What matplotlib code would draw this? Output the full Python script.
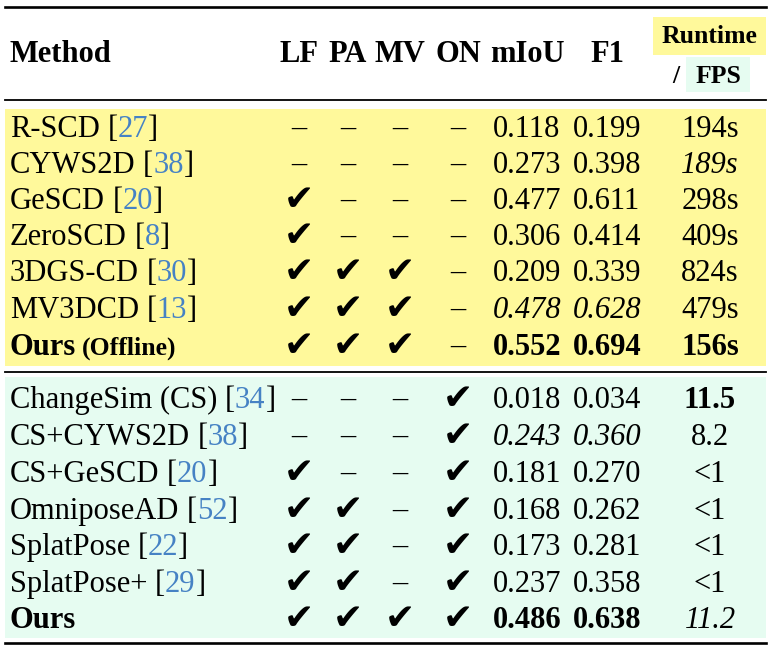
import matplotlib
matplotlib.use("Agg")
import matplotlib.pyplot as plt
from matplotlib.patches import Rectangle

# ---- table data ----
methods = ["R-SCD", "CYWS2D", "GeSCD", "ZeroSCD", "3DGS-CD", "MV3DCD", "Ours",
           "ChangeSim (CS)", "CS+CYWS2D", "CS+GeSCD", "OmniposeAD", "SplatPose",
           "SplatPose+", "Ours"]
suffix = ["", "", "", "", "", "", "(Offline)", "", "", "", "", "", "", ""]
cites = ["27", "38", "20", "8", "30", "13", "", "34", "38", "20", "52", "22", "29", ""]
lf = [0, 0, 1, 1, 1, 1, 1, 0, 0, 1, 1, 1, 1, 1]
pa = [0, 0, 0, 0, 1, 1, 1, 0, 0, 0, 1, 1, 1, 1]
mv = [0, 0, 0, 0, 1, 1, 1, 0, 0, 0, 0, 0, 0, 1]
on = [0, 0, 0, 0, 0, 0, 0, 1, 1, 1, 1, 1, 1, 1]
miou = ["0.118", "0.273", "0.477", "0.306", "0.209", "0.478", "0.552",
        "0.018", "0.243", "0.181", "0.168", "0.173", "0.237", "0.486"]
f1 = ["0.199", "0.398", "0.611", "0.414", "0.339", "0.628", "0.694",
      "0.034", "0.360", "0.270", "0.262", "0.281", "0.358", "0.638"]
runtime = ["194s", "189s", "298s", "409s", "824s", "479s", "156s",
           "11.5", "8.2", "<1", "<1", "<1", "<1", "11.2"]

# styles: b = bold, i = italic, n = normal
name_style = ["n"] * 6 + ["b"] + ["n"] * 6 + ["b"]
score_style = ["n", "n", "n", "n", "n", "i", "b", "n", "i", "n", "n", "n", "n", "b"]
rt_style = ["n", "i", "n", "n", "n", "n", "b", "b", "n", "n", "n", "n", "n", "i"]

SERIF = ["Liberation Serif", "DejaVu Serif"]
FS = 22
YELLOW = "#fff99b"
GREEN = "#e6fcf1"
BLUE = "#4682c4"

fig = plt.figure(figsize=(7.79, 6.48), dpi=100)
ax = fig.add_axes([0, 0, 1, 1])
ax.set_xlim(0, 779)
ax.set_ylim(648, 0)
ax.axis("off")
renderer = fig.canvas.get_renderer()


def props(style, size=FS, color="black"):
    return dict(family=SERIF, fontsize=size, color=color,
                fontweight="bold" if style == "b" else "normal",
                fontstyle="italic" if style == "i" else "normal")


def run(x, y, parts):
    # draw text pieces one after another on the same baseline
    inv = ax.transData.inverted()
    for s, p, gap in parts:
        t = ax.text(x, y, s, ha="left", va="baseline", **p)
        bb = t.get_window_extent(renderer)
        x = inv.transform((bb.x1, bb.y0))[0] + gap


# bands
ax.add_patch(Rectangle((5, 109), 761, 257, color=YELLOW, lw=0))
ax.add_patch(Rectangle((5, 377), 761, 261, color=GREEN, lw=0))
ax.add_patch(Rectangle((653, 17), 113, 38, color=YELLOW, lw=0))
ax.add_patch(Rectangle((686, 57), 64, 35, color=GREEN, lw=0))

# rules
ax.plot([5, 766], [7, 7], color="black", lw=1.9)
ax.plot([5, 766], [100, 100], color="black", lw=1.3)
ax.plot([5, 766], [371.5, 371.5], color="black", lw=1.3)
ax.plot([5, 766], [643, 643], color="black", lw=1.9)

# header
hy = 62
ax.text(10, hy, "Method", ha="left", va="baseline", **props("b"))
col_x = [299, 348, 400, 458, 527, 607]
for cx, h in zip(col_x, ["LF", "PA", "MV", "ON", "mIoU", "F1"]):
    ax.text(cx, hy, h, ha="center", va="baseline", **props("b"))
ax.text(710, 43, "Runtime", ha="center", va="baseline", **props("b", 18.5))
ax.text(676, 83, "/", ha="center", va="baseline", **props("b", 18.5))
ax.text(718, 83, "FPS", ha="center", va="baseline", **props("b", 18.5))

row_y = [127, 163, 199, 235, 271, 308, 345,
         398, 435, 472, 509, 545, 582, 618]

for i, yc in enumerate(row_y):
    base = yc + 10
    if cites[i]:
        run(10, base, [(methods[i], props(name_style[i]), 7.5),
                       ("[", props("n"), 0),
                       (cites[i], props("n", color=BLUE), 0),
                       ("]", props("n"), 0)])
    elif suffix[i]:
        run(10, base, [(methods[i], props("b"), 6),
                       (suffix[i], props("b", 18.5), 0)])
    else:
        run(10, base, [(methods[i], props(name_style[i]), 0)])

    for cx, flag in zip(col_x[:4], [lf[i], pa[i], mv[i], on[i]]):
        if flag:
            ax.text(cx, yc + 1, "\u2714", ha="center", va="center",
                    family=["DejaVu Sans"], fontsize=26)
        else:
            ax.text(cx, base - 1, "\u2013", ha="center", va="baseline", **props("n"))

    ax.text(col_x[4], base, miou[i], ha="center", va="baseline", **props(score_style[i]))
    ax.text(col_x[5], base, f1[i], ha="center", va="baseline", **props(score_style[i]))
    ax.text(710, base, runtime[i], ha="center", va="baseline", **props(rt_style[i]))

fig.savefig("out.png", dpi=100)
